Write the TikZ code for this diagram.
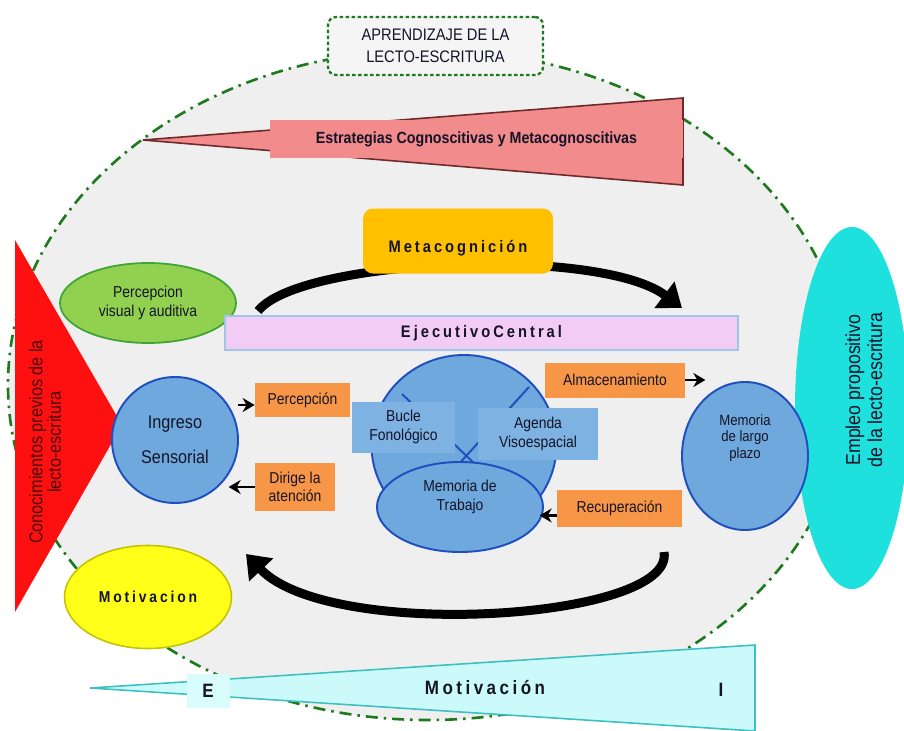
\documentclass[tikz,border=0pt]{standalone}
\usepackage{fontspec}
\setmainfont{Liberation Sans}[FakeStretch=0.88]
\usetikzlibrary{shapes.geometric,arrows.meta}

\definecolor{bggray}{HTML}{EFEFEF}
\definecolor{dashgreen}{HTML}{1E7A1E}
\definecolor{salmon}{HTML}{F28B8B}
\definecolor{maroon}{HTML}{6E2A2A}
\definecolor{maroonink}{HTML}{4A0A0A}
\definecolor{gold}{HTML}{FFC000}
\definecolor{leaf}{HTML}{92D050}
\definecolor{leafline}{HTML}{3FA535}
\definecolor{lilac}{HTML}{F2CCF4}
\definecolor{lilacline}{HTML}{9FC5E8}
\definecolor{redtri}{HTML}{FF1010}
\definecolor{turq}{HTML}{1EE0DC}
\definecolor{skyfill}{HTML}{6FA8DC}
\definecolor{skyline}{HTML}{1F4FBF}
\definecolor{skypale}{HTML}{7DB2E2}
\definecolor{orfill}{HTML}{F79646}
\definecolor{yelfill}{HTML}{FFFF1A}
\definecolor{yelline}{HTML}{C4C400}
\definecolor{icefill}{HTML}{CCFAFA}
\definecolor{iceline}{HTML}{3CC0C0}
\definecolor{icebox}{HTML}{D9FCFC}
\definecolor{ink}{HTML}{141428}

\newcommand\spc[1]{{\addfontfeatures{LetterSpace=18}#1}}

\begin{document}
\begin{tikzpicture}[
  x=.2mm, y=-.2mm,
  txt/.style={align=center, text=ink, inner sep=0pt},
  small/.style={font=\fontsize{9}{10.5}\selectfont},
  spaced/.style={font=\bfseries\fontsize{9.5}{11}\selectfont},
  orbox/.style={rectangle, fill=orfill, txt, small},
  palebox/.style={rectangle, fill=skypale, txt, small},
  blob/.style={ellipse, fill=skyfill, draw=skyline, line width=1.1pt, txt, small},
  arr/.style={-{Stealth[length=2.4mm,width=2.8mm]}, line width=1.4pt},
  bigarr/.style={-{Triangle[length=4.4mm,width=6.4mm]}, line width=1.8mm}
]
  \useasboundingbox (0,0) rectangle (904,731);

  % background
  \draw[fill=bggray, draw=dashgreen, line width=1.5pt,
    dash pattern=on 2.4mm off 1.2mm on .5mm off 1.2mm]
    (428,385) ellipse [x radius=84mm, y radius=67mm];

  \node[rectangle, rounded corners=1.6mm, fill=white!96!black, draw=dashgreen,
    line width=1.3pt, dash pattern=on .7mm off .5mm, minimum width=43mm,
    minimum height=11.6mm, txt, font=\fontsize{9.5}{12.5}\selectfont]
    (title) at (435.5,46) {APRENDIZAJE DE LA\\LECTO-ESCRITURA};

  % wedges
  \filldraw[fill=salmon, draw=maroon, line width=.9pt] (143,140) -- (683,98) -- (683,185) -- cycle;
  \node[rectangle, fill=salmon, minimum width=82.6mm, minimum height=7.6mm, txt,
    font=\bfseries\fontsize{9.2}{11}\selectfont] (estrat) at (476.5,139)
    {Estrategias Cognoscitivas y Metacognoscitivas};

  \fill[redtri] (15,240) -- (15,612) -- (122,425) -- cycle;
  \node[rotate=90, txt, text=maroonink, font=\fontsize{10.5}{10.5}\selectfont]
    (conoc) at (45,442) {Conocimientos previos de la\\lecto-escritura};

  \node[ellipse, fill=turq, minimum width=22.8mm, minimum height=72.4mm, inner sep=0pt]
    (empleo-bg) at (852,408) {};
  \node[rotate=90, txt, font=\fontsize{11.5}{12.5}\selectfont]
    (empleo) at (864,390) {Empleo propositivo\\de la lecto-escritura};

  \filldraw[fill=icefill, draw=iceline, line width=.9pt] (90,688) -- (755,645) -- (755,731) -- cycle;
  \node[rectangle, fill=icebox, minimum width=8.6mm, minimum height=6.8mm, txt,
    font=\bfseries\fontsize{11}{13}\selectfont] (ext) at (208,691) {E};
  \node[txt, font=\bfseries\fontsize{11}{13}\selectfont] (motiv-bar) at (485,688) {\spc{Motivación}};
  \node[txt, font=\bfseries\fontsize{11}{13}\selectfont] (int) at (721,690) {I};

  % cycle arrows
  \coordinate (arc-top-s) at (258,311);
  \coordinate (arc-top-e) at (682,308);
  \draw[bigarr] (arc-top-s) .. controls (300,258) and (600,246) .. (arc-top-e);
  \coordinate (arc-bot-s) at (664,552);
  \coordinate (arc-bot-e) at (246,554);
  \draw[bigarr] (arc-bot-s) .. controls (676,620) and (330,642) .. (arc-bot-e);

  \node[rectangle, rounded corners=2mm, fill=gold, minimum width=38mm, minimum height=13mm,
    label={[txt, spaced, yshift=-1.4mm]center:\spc{Metacognición}}] (meta) at (458,241) {};

  \node[ellipse, fill=leaf, draw=leafline, line width=1pt, minimum width=35.2mm,
    minimum height=16mm, txt, small] (perc-vis) at (148,303) {Percepcion\\visual y auditiva};

  \node[rectangle, fill=lilac, draw=lilacline, line width=.8pt, minimum width=102.6mm,
    minimum height=6.8mm, txt, spaced] (ejec) at (481.5,333) {\spc{EjecutivoCentral}};

  % memory model
  \node[blob, minimum size=25.2mm, font=\fontsize{10.5}{20}\selectfont]
    (ingreso) at (175,440) {Ingreso\\Sensorial};
  \node[orbox, minimum width=19mm, minimum height=6.8mm] (percep) at (302.5,400) {Percepción};
  \node[orbox, minimum width=16mm, minimum height=9.6mm] (dirige) at (295,487) {Dirige la\\atención};

  \node[blob, minimum width=37mm, minimum height=36mm] (wm) at (464,445) {};
  \coordinate (wm-a1) at (402,394); \coordinate (wm-a2) at (478,467);
  \coordinate (wm-b1) at (529,387); \coordinate (wm-b2) at (457,466);
  \draw[skyline, line width=1.1pt] (wm-a1) -- (wm-a2) (wm-b1) -- (wm-b2);
  \node[palebox, minimum width=20.6mm, minimum height=10.2mm] (bucle) at (403.5,427) {Bucle\\Fonológico};
  \node[palebox, minimum width=24mm, minimum height=10.4mm] (agenda) at (538,434) {Agenda\\Visoespacial};
  \node[blob, minimum width=33.2mm, minimum height=18mm,
    label={[txt, small, yshift=2mm]center:{Memoria de\\Trabajo}}] (mem-trab) at (460,507) {};

  \node[orbox, minimum width=28mm, minimum height=7mm] (almac) at (615,380) {Almacenamiento};
  \node[orbox, minimum width=25mm, minimum height=7.4mm] (recup) at (619.5,508.5) {Recuperación};
  \node[blob, minimum width=25.2mm, minimum height=29.6mm,
    label={[txt, font=\fontsize{8.5}{9.2}\selectfont, yshift=3.6mm]center:{Memoria\\de largo\\plazo}}]
    (largo) at (745,456) {};

  \node[ellipse, fill=yelfill, draw=yelline, line width=.9pt, minimum width=33.4mm,
    minimum height=20.6mm, txt, font=\bfseries\fontsize{9}{11}\selectfont]
    (motiv) at (148,597) {\spc{Motivacion}};

  \draw[arr] ([xshift=-3.4mm, yshift=-1mm]percep.west) -- ([yshift=-1mm]percep.west);
  \draw[arr] (dirige.west) -- ++(-26,0);
  \draw[arr] (almac.east) -- ++(20,0);
  \draw[arr] ([yshift=-1.4mm]recup.west) -- ++(-17,0);

\end{tikzpicture}
\end{document}
